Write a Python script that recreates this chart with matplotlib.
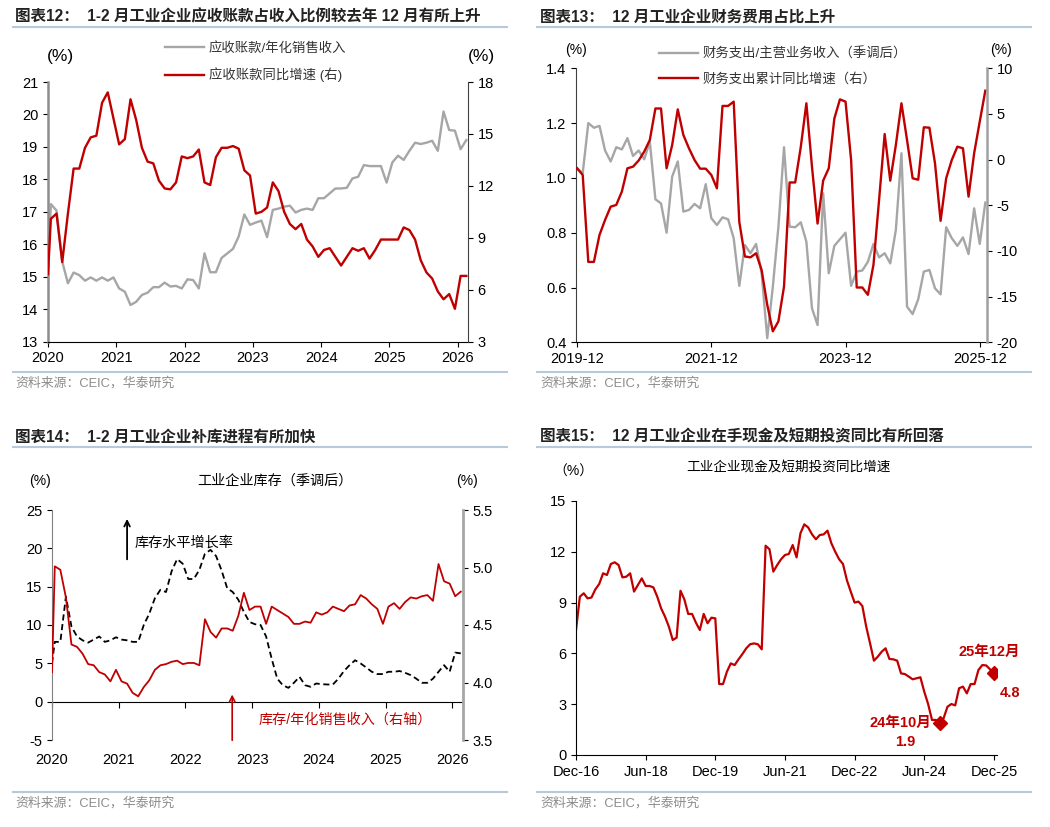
import numpy as np
import matplotlib
matplotlib.use('Agg')
import matplotlib.pyplot as plt
from matplotlib.lines import Line2D

plt.rcParams['font.family'] = ['Liberation Sans', 'Noto Sans CJK SC']
plt.rcParams['axes.unicode_minus'] = False

RED = '#C00000'
GRAY = '#A6A6A6'
W, H = 1050, 827

# ---- chart 12: receivables, monthly from 2020-01 ----
year_labels = ['2020', '2021', '2022', '2023', '2024', '2025', '2026']
ar_ratio = [15.2, 17.24, 17.04, 15.47, 14.8, 15.13, 15.05, 14.88, 14.98, 14.88, 14.98, 14.88,
            14.98, 14.64, 14.54, 14.13, 14.23, 14.44, 14.51, 14.68, 14.68, 14.82, 14.7, 14.72,
            14.64, 14.92, 14.9, 14.64, 15.72, 15.14, 15.14, 15.58, 15.72, 15.86, 16.24, 16.92,
            16.6, 16.67, 16.73, 16.22, 17.06, 17.1, 17.16, 17.19, 16.98, 17.06, 17.1, 17.06,
            17.42, 17.42, 17.57, 17.72, 17.72, 17.74, 18.03, 18.08, 18.44, 18.41, 18.41, 18.41,
            17.9, 18.52, 18.73, 18.6, 18.88, 19.13, 19.09, 19.13, 19.19, 18.88, 20.09, 19.52,
            19.5, 18.93, 19.21]
ar_growth = [6.9, 10.1, 10.4, 7.6, 10.4, 13.0, 13.0, 14.2, 14.8, 14.9, 16.8, 17.4,
             15.9, 14.4, 14.7, 17.0, 15.8, 14.2, 13.4, 13.3, 12.3, 11.85, 11.8, 12.2,
             13.7, 13.6, 13.7, 14.1, 12.2, 12.05, 13.65, 14.2, 14.2, 14.3, 14.15, 12.9,
             12.6, 10.4, 10.5, 10.75, 12.2, 11.7, 10.5, 9.8, 9.5, 9.8, 8.9, 8.5,
             7.9, 8.3, 8.4, 7.9, 7.4, 7.9, 8.4, 8.25, 8.4, 7.8, 8.3, 8.9,
             8.9, 8.9, 8.9, 9.6, 9.45, 8.9, 7.7, 7.0, 6.65, 5.9, 5.45, 5.75,
             4.9, 6.8, 6.8]

# ---- chart 13: financial expenses, monthly from 2019-12 ----
fin_labels = ['2019-12', '2021-12', '2023-12', '2025-12']
fin_ratio = [1.035, 1.017, 1.20, 1.183, 1.19, 1.10, 1.06, 1.112, 1.104, 1.145, 1.08, 1.10,
             1.068, 1.132, 0.922, 0.907, 0.80, 1.005, 1.06, 0.877, 0.883, 0.905, 0.889, 0.977,
             0.853, 0.828, 0.856, 0.849, 0.78, 0.606, 0.755, 0.725, 0.759, 0.652, 0.415, 0.603,
             0.822, 1.112, 0.822, 0.82, 0.838, 0.767, 0.524, 0.463, 0.944, 0.652, 0.752, 0.776,
             0.80, 0.606, 0.658, 0.662, 0.694, 0.759, 0.71, 0.725, 0.688, 0.81, 1.09, 0.53,
             0.503, 0.557, 0.658, 0.664, 0.597, 0.575, 0.82, 0.78, 0.752, 0.783, 0.722, 0.889,
             0.759, 0.91]
fin_growth = [-0.95, -1.68, -11.2, -11.2, -8.25, -6.6, -5.15, -4.96, -3.5, -0.95, -0.77, -0.1,
              0.88, 2.15, 5.6, 5.6, -0.95, 1.6, 5.5, 2.7, 1.24, -0.04, -0.99, -0.99,
              -1.68, -3.14, 5.88, 5.88, 6.35, -6.8, -10.6, -10.7, -10.25, -12.1, -15.9, -18.8,
              -17.7, -13.9, -2.5, -2.5, 1.4, 6.17, -0.77, -7.0, -2.3, -0.95, 4.5, 6.6,
              6.35, -0.04, -14.0, -14.0, -14.8, -11.5, -4.4, 2.8, -2.3, 1.6, 6.17, 2.15,
              -2.04, -2.2, 3.54, 3.5, -0.4, -6.7, -2.04, -0.04, 1.42, 1.24, -4.05, 0.7,
              4.16, 7.55]

# ---- chart 14: inventories, monthly from 2020-01 ----
inv_growth = [5.0, 7.8, 7.8, 13.7, 9.8, 8.5, 8.0, 7.7, 8.1, 8.5, 7.8, 8.0,
              8.4, 8.1, 8.0, 7.8, 7.8, 10.0, 11.5, 13.5, 14.6, 14.3, 17.0, 18.6,
              18.0, 16.0, 16.0, 17.2, 19.3, 19.8, 19.0, 17.1, 14.8, 14.3, 13.3, 11.7,
              10.4, 10.1, 10.0, 8.5, 5.6, 3.0, 2.15, 1.8, 2.46, 3.24, 2.15, 1.94,
              2.37, 2.28, 2.24, 2.24, 3.0, 4.0, 4.76, 5.4, 4.98, 4.46, 3.9, 3.6,
              3.6, 3.9, 3.9, 4.0, 3.76, 3.46, 3.0, 2.46, 2.46, 3.0, 3.9, 4.76,
              3.9, 6.4, 6.3]
inv_ratio = [4.09, 5.01, 4.98, 4.74, 4.33, 4.31, 4.25, 4.16, 4.15, 4.09, 4.07, 4.01,
             4.11, 4.01, 3.99, 3.91, 3.88, 3.96, 4.02, 4.11, 4.15, 4.16, 4.18, 4.19,
             4.16, 4.17, 4.17, 4.15, 4.55, 4.44, 4.39, 4.47, 4.47, 4.45, 4.58, 4.78,
             4.63, 4.66, 4.66, 4.51, 4.66, 4.63, 4.60, 4.57, 4.51, 4.51, 4.53, 4.52,
             4.61, 4.59, 4.61, 4.66, 4.64, 4.62, 4.67, 4.68, 4.76, 4.73, 4.68, 4.64,
             4.51, 4.66, 4.69, 4.64, 4.70, 4.74, 4.73, 4.75, 4.76, 4.71, 5.03, 4.88,
             4.86, 4.75, 4.79]

# ---- chart 15: cash & short-term investment, monthly Dec-16 .. Dec-25 ----
cash_labels = ['Dec-16', 'Jun-18', 'Dec-19', 'Jun-21', 'Dec-22', 'Jun-24', 'Dec-25']
cash_growth = [7.38, 9.35, 9.55, 9.25, 9.3, 9.78, 10.1, 10.73, 10.63, 11.28, 11.38, 11.22,
               10.49, 10.53, 10.73, 9.65, 10.04, 10.43, 9.98, 9.98, 9.9, 9.35, 8.66, 8.17,
               7.58, 6.79, 6.93, 9.7, 9.19, 8.33, 8.33, 7.81, 7.38, 8.33, 7.78, 8.11,
               8.07, 4.19, 4.19, 4.92, 5.41, 5.31, 5.65, 5.96, 6.3, 6.54, 6.59, 6.54,
               6.24, 12.36, 12.15, 10.83, 11.22, 11.56, 11.81, 11.87, 12.4, 11.67, 13.09, 13.62,
               13.44, 13.03, 12.74, 12.99, 13.03, 13.25, 12.5, 12.0, 11.56, 11.28, 10.33, 9.65,
               9.0, 9.06, 8.8, 7.58, 6.59, 5.57, 5.81, 6.1, 6.3, 5.67, 5.65, 5.57,
               4.82, 4.78, 4.63, 4.47, 4.53, 4.59, 3.74, 3.01, 2.07, 2.07, 1.87, 2.17,
               2.85, 3.01, 2.93, 3.94, 4.04, 3.64, 4.19, 4.19, 5.02, 5.31, 5.29, 5.06,
               4.82]
cash_marks = [94, 108]
cash_mark_names = ['24年10月', '25年12月']

source = '资料来源：CEIC，华泰研究'


def px_box(l, t, r, b):
    return [l / W, 1 - b / H, (r - l) / W, (b - t) / H]


def ftext(x, y, s, **kw):
    fig.text(x / W, 1 - y / H, s, **kw)


def hline(x0, x1, y):
    fig.add_artist(Line2D([x0 / W, x1 / W], [1 - y / H, 1 - y / H],
                          color='#B8C9DA', lw=1.5))


fig = plt.figure(figsize=(W / 100, H / 100), dpi=100)

# titles, separators and sources
title_kw = dict(fontsize=11.2, fontweight='bold', va='center', color='#222222')
ftext(15, 17, '图表12：  1-2 月工业企业应收账款占收入比例较去年 12 月有所上升', **title_kw)
ftext(540, 17, '图表13：  12 月工业企业财务费用占比上升', **title_kw)
ftext(15, 437, '图表14：  1-2 月工业企业补库进程有所加快', **title_kw)
ftext(540, 437, '图表15：  12 月工业企业在手现金及短期投资同比有所回落', **title_kw)
for x0, x1 in [(13, 507), (537, 1031)]:
    hline(x0, x1, 27)
    hline(x0, x1, 372)
    hline(x0, x1, 447)
    hline(x0, x1, 792)
for x, y in [(15, 383), (540, 383), (15, 803), (540, 803)]:
    ftext(x, y, source, fontsize=9.3, color='#8C8C8C', va='center')

# ================= chart 12 =================
ax1 = fig.add_axes(px_box(48, 82, 468, 341.7))
ax1r = ax1.twinx()
x12 = np.r_[0, np.arange(len(ar_ratio) - 1) + 0.5]
l1, = ax1.plot(x12, ar_ratio, color=GRAY, lw=1.7, label='应收账款/年化销售收入')
l2, = ax1r.plot(x12, ar_growth, color=RED, lw=1.7, label='应收账款同比增速 (右)')
ax1.set_xlim(0, 73.8)
ax1.set_ylim(13, 21)
ax1r.set_ylim(3, 18)
ax1.set_xticks(np.arange(0, 73, 12), year_labels)
ax1.set_yticks(np.arange(13, 22, 1))
ax1r.set_yticks(np.arange(3, 19, 3))
ax1.spines['top'].set_visible(False)
ax1.spines['right'].set_visible(False)
ax1.spines['left'].set_color('#8C8C8C')
ax1.spines['left'].set_linewidth(1.8)
for s in ['top', 'left', 'bottom']:
    ax1r.spines[s].set_visible(False)
ax1r.spines['right'].set_color('#404040')
ax1.legend(handles=[l1, l2], loc='upper left', bbox_to_anchor=(165 / W, 1 - 42 / H),
           bbox_transform=fig.transFigure, frameon=False, fontsize=9.6, handlelength=2.9,
           handletextpad=0.4, labelspacing=0.95, borderpad=0, borderaxespad=0,
           labelcolor='#333333')
ftext(60, 57, '(%)', fontsize=12.5, ha='center', va='center')
ftext(481, 57, '(%)', fontsize=12.5, ha='center', va='center')

# ================= chart 13 =================
ax2 = fig.add_axes(px_box(576, 68.3, 987, 342.3))
ax2r = ax2.twinx()
x13 = np.arange(len(fin_ratio))
m1, = ax2.plot(x13, fin_ratio, color=GRAY, lw=1.7, label='财务支出/主营业务收入（季调后）')
m2, = ax2r.plot(x13, fin_growth, color=RED, lw=1.7, label='财务支出累计同比增速（右）')
ax2.set_xlim(-0.2, 73.3)
ax2.set_ylim(0.4, 1.4)
ax2r.set_ylim(-20, 10)
ax2.set_xticks(np.arange(0, 73, 24), fin_labels)
ax2.set_yticks(np.arange(0.4, 1.41, 0.2))
ax2.yaxis.set_major_formatter(plt.FormatStrFormatter('%.1f'))
ax2r.set_yticks(np.arange(-20, 11, 5))
ax2.spines['top'].set_visible(False)
ax2.spines['right'].set_visible(False)
ax2.spines['left'].set_color('#404040')
for s in ['top', 'left', 'bottom']:
    ax2r.spines[s].set_visible(False)
ax2r.spines['right'].set_color('#A0A0A0')
ax2r.spines['right'].set_linewidth(1.8)
ax2.legend(handles=[m1, m2], loc='upper left', bbox_to_anchor=(659 / W, 1 - 47.5 / H),
           bbox_transform=fig.transFigure, frameon=False, fontsize=9.6, handlelength=2.9,
           handletextpad=0.4, labelspacing=0.9, borderpad=0, borderaxespad=0,
           labelcolor='#333333')
ftext(576, 50, '(%)', fontsize=10, ha='center', va='center')
ftext(1001, 50, '(%)', fontsize=10, ha='center', va='center')

# ================= chart 14 =================
ax3 = fig.add_axes(px_box(52, 510, 463, 740))
ax3r = ax3.twinx()
x14 = np.r_[0, np.arange(len(inv_growth) - 1) + 0.5]
ax3.plot(x14, inv_growth, color='black', lw=1.3, ls=(0, (3.4, 2.0)))
ax3r.plot(x14, inv_ratio, color=RED, lw=1.3)
ax3.set_xlim(0, 73.9)
ax3.set_ylim(-5, 25)
ax3r.set_ylim(3.5, 5.5)
ax3.set_xticks(np.arange(0, 73, 12), year_labels)
ax3.set_yticks(np.arange(-5, 26, 5))
ax3r.set_yticks(np.arange(3.5, 5.51, 0.5))
ax3r.yaxis.set_major_formatter(plt.FormatStrFormatter('%.1f'))
ax3.tick_params(axis='x', length=0, pad=9)
for s in ['top', 'right', 'bottom']:
    ax3.spines[s].set_visible(False)
ax3.spines['left'].set_color('#808080')
for s in ['top', 'left', 'bottom']:
    ax3r.spines[s].set_visible(False)
ax3r.spines['right'].set_color('#A6A6A6')
ax3r.spines['right'].set_linewidth(2)
zero_ax = ax3.secondary_xaxis(5 / 30)
zero_ax.set_xticks(np.arange(0, 73, 12))
zero_ax.tick_params(axis='x', length=4, labelbottom=False)
ax3.annotate('', xy=(13.5, 24.2), xytext=(13.5, 18.2),
             arrowprops=dict(arrowstyle='->', color='black', lw=1.3))
ax3.text(14.9, 20.8, '库存水平增长率', fontsize=10.2, va='center', ha='left')
ax3.annotate('', xy=(32.4, 1.3), xytext=(32.4, -5.4), annotation_clip=False,
             arrowprops=dict(arrowstyle='->', color=RED, lw=1.2))
ax3.text(37.2, -2.3, '库存/年化销售收入（右轴）', fontsize=10.2, va='center', ha='left',
         color=RED)
ftext(40, 481, '(%)', fontsize=10, ha='center', va='center')
ftext(467, 481, '(%)', fontsize=10, ha='center', va='center')
ftext(275, 481, '工业企业库存（季调后）', fontsize=10.2, ha='center', va='center')

# ================= chart 15 =================
ax4 = fig.add_axes(px_box(576, 501, 997, 755))
x15 = np.arange(len(cash_growth))
cash = np.array(cash_growth)
ax4.plot(x15, cash, color=RED, lw=1.6)
ax4.plot(x15[cash_marks], cash[cash_marks], 'D', color=RED, ms=7)
ax4.set_xlim(0, 108.8)
ax4.set_ylim(0, 15)
ax4.set_xticks(np.arange(0, 109, 18), cash_labels)
ax4.set_yticks(np.arange(0, 16, 3))
ax4.spines['top'].set_visible(False)
ax4.spines['right'].set_visible(False)
lab_kw = dict(textcoords='offset pixels', color=RED, fontsize=10.5, fontweight='bold',
              va='center')
i0, i1 = cash_marks
ax4.annotate(cash_mark_names[0], (x15[i0], cash[i0]), xytext=(-8, 0), ha='right', **lab_kw)
ax4.annotate(f'{cash[i0]:.1f}', (x15[i0], cash[i0]), xytext=(-34, -19), ha='center', **lab_kw)
ax4.annotate(cash_mark_names[1], (x15[i1], cash[i1]), xytext=(-5, 21), ha='center', **lab_kw)
ax4.annotate(f'{cash[i1]:.1f}', (x15[i1], cash[i1]), xytext=(16, -20), ha='center', **lab_kw)
ftext(573, 472, '（%）', fontsize=10, ha='center', va='center')
ftext(788, 468, '工业企业现金及短期投资同比增速', fontsize=9.8, ha='center', va='center')

for ax in [ax1, ax1r, ax2, ax2r, ax3, ax3r, ax4]:
    ax.tick_params(labelsize=10.5)
ax3.tick_params(axis='x', length=0)

fig.savefig('out.png', dpi=100)
